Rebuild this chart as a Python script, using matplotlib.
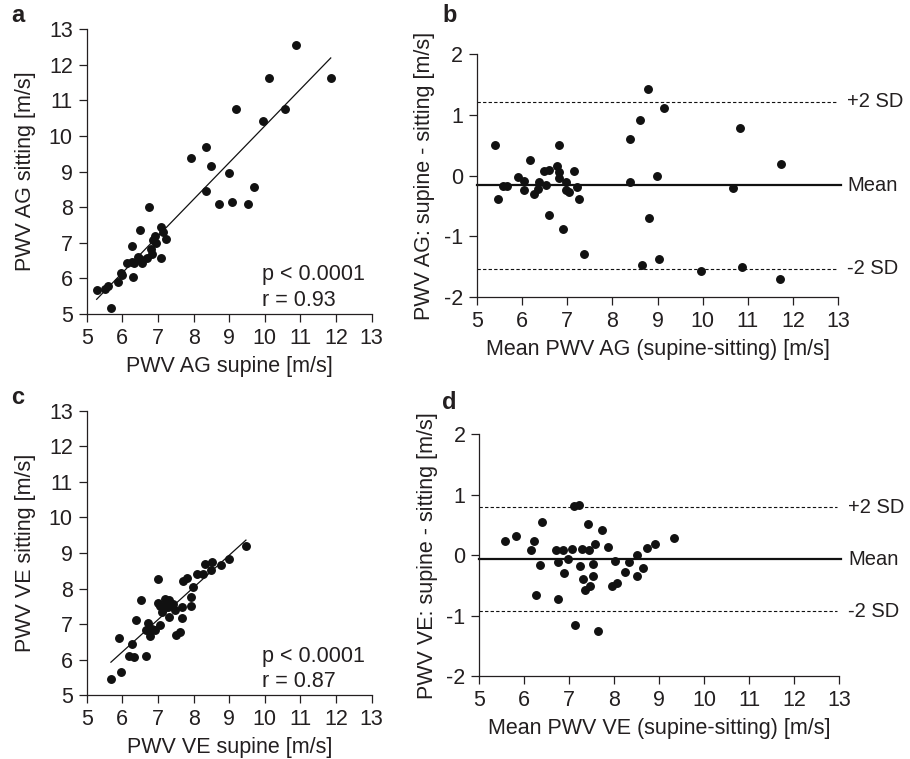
import matplotlib
matplotlib.use("Agg")
import matplotlib.pyplot as plt
import numpy as np

plt.rcParams['font.family'] = ['Liberation Sans', 'DejaVu Sans']
plt.rcParams['axes.unicode_minus'] = False
plt.rcParams['text.color'] = '#231f20'
plt.rcParams['axes.labelcolor'] = '#231f20'
plt.rcParams['xtick.color'] = '#231f20'
plt.rcParams['ytick.color'] = '#231f20'

# panel a: PWV AG supine vs sitting
ag_supine = [5.28, 5.5, 5.6, 5.67, 5.89, 5.97, 6.0, 6.31, 6.14, 6.26, 6.33, 6.44, 6.56,
             6.5, 6.68, 6.28, 6.5, 6.74, 6.80, 6.84, 6.87, 6.94, 6.91, 7.09, 7.09, 7.13,
             7.22, 7.92, 8.36, 8.48, 8.36, 8.72, 8.99, 9.08, 9.19, 9.52, 9.71, 9.94,
             10.12, 10.56, 10.87, 11.85]
ag_sitting = [5.67, 5.7, 5.78, 5.16, 5.91, 6.16, 6.1, 6.05, 6.42, 6.47, 6.42, 6.61, 6.44,
              6.55, 6.56, 6.92, 7.36, 8.01, 6.82, 6.68, 7.08, 6.99, 7.19, 6.56, 7.45, 7.31,
              7.11, 9.37, 9.70, 9.17, 8.46, 8.09, 8.97, 8.14, 10.75, 8.09, 8.58, 10.42,
              11.64, 10.76, 12.56, 11.64]

# panel b: Bland-Altman AG
ag_mean = [5.40, 5.48, 5.59, 5.66, 5.91, 6.05, 6.05, 6.18, 6.27, 6.35, 6.38, 6.49, 6.53,
           6.61, 6.60, 6.77, 6.82, 6.83, 6.81, 6.92, 6.98, 6.98, 7.05, 7.16, 7.21, 7.26,
           7.38, 8.39, 8.40, 8.61, 8.65, 8.80, 8.82, 8.98, 9.03, 9.14, 9.96, 10.67,
           10.82, 10.88, 11.73, 11.71]
ag_diff = [0.50, -0.39, -0.17, -0.17, -0.02, -0.09, -0.24, 0.26, -0.31, -0.23, -0.10, 0.08,
           -0.15, 0.09, -0.66, 0.15, 0.50, 0.05, -0.04, -0.89, -0.10, -0.24, -0.28, 0.08,
           -0.19, -0.39, -1.29, 0.60, -0.10, 0.92, -1.48, 1.42, -0.70, -0.005, -1.37,
           1.11, -1.58, -0.20, 0.78, -1.51, 0.19, -1.71]
ag_lines = [1.22, -0.16, -1.54]   # +2 SD, mean, -2 SD

# panel c: PWV VE supine vs sitting
ve_supine = [5.68, 5.96, 5.92, 6.26, 6.20, 6.33, 6.66, 6.38, 6.52, 6.66, 6.73, 6.78, 6.83,
             6.92, 6.99, 7.06, 7.01, 7.11, 7.07, 7.20, 7.32, 7.29, 7.32, 7.43, 7.48, 7.51,
             7.62, 7.67, 7.67, 7.69, 7.81, 7.93, 7.93, 7.98, 8.09, 8.26, 8.32, 8.49, 8.53,
             8.76, 9.0, 9.47, 7.2]
ve_sitting = [5.46, 5.66, 6.60, 6.43, 6.11, 6.08, 6.11, 7.12, 7.68, 6.83, 7.02, 6.67, 6.85,
              6.83, 8.26, 6.97, 7.60, 7.35, 7.5, 7.72, 7.68, 7.49, 7.21, 7.58, 7.40, 6.69,
              6.79, 7.16, 7.47, 8.22, 8.29, 7.77, 7.51, 8.05, 8.40, 8.40, 8.69, 8.52, 8.75,
              8.66, 8.82, 9.19, 7.55]

# panel d: Bland-Altman VE
ve_mean = [5.58, 5.81, 6.16, 6.21, 6.27, 6.36, 6.39, 6.71, 6.76, 6.76, 6.86, 6.88, 6.97,
           7.06, 7.10, 7.21, 7.12, 7.23, 7.28, 7.30, 7.34, 7.43, 7.42, 7.47, 7.52, 7.52,
           7.58, 7.63, 7.73, 7.86, 7.96, 8.06, 8.02, 8.25, 8.33, 8.51, 8.51, 8.64, 8.72,
           8.91, 9.34]
ve_diff = [0.24, 0.31, 0.08, 0.24, -0.66, -0.17, 0.55, 0.08, -0.12, -0.72, 0.08, -0.29,
           -0.06, 0.11, 0.81, 0.83, -1.15, -0.18, 0.11, -0.39, -0.58, 0.08, 0.51, -0.51,
           -0.15, -0.35, 0.19, -1.25, 0.41, 0.14, -0.51, -0.46, -0.09, -0.28, -0.12,
           -0.005, -0.35, -0.22, 0.12, 0.19, 0.29]
ve_lines = [0.79, -0.07, -0.93]

line_labels = ['+2 SD', 'Mean', '-2 SD']
ticks_v = [5, 6, 7, 8, 9, 10, 11, 12, 13]
ticks_d = [-2, -1, 0, 1, 2]

FS = 15.5
W, H = 910, 759
fig = plt.figure(figsize=(W / 100, H / 100), dpi=100)


def add_ax(l, r, t, b):
    return fig.add_axes([l / W, 1 - b / H, (r - l) / W, (b - t) / H])


def style(ax):
    for s in ['top', 'right']:
        ax.spines[s].set_visible(False)
    for s in ['left', 'bottom']:
        ax.spines[s].set_linewidth(0.9)
        ax.spines[s].set_color('#231f20')
    ax.tick_params(direction='out', length=6, width=0.9, labelsize=FS, pad=4)
    ax.set_xlim(5, 13)
    ax.set_xticks(ticks_v)


def scatter_panel(ax, x, y, xlabel, ylabel, r):
    style(ax)
    ax.set_ylim(5, 13)
    ax.set_yticks(ticks_v)
    ax.plot(x, y, 'o', color='#111111', markersize=5.4, clip_on=False)
    k, c = np.polyfit(x, y, 1)
    xs = np.array([min(x), max(x)])
    ax.plot(xs, k * xs + c, color='#111111', lw=0.9)
    ax.text(9.92, 6.1, 'p < 0.0001', ha='left', va='center', fontsize=FS)
    ax.text(9.92, 5.38, 'r = ' + r, ha='left', va='center', fontsize=FS)
    ax.set_xlabel(xlabel, fontsize=FS, labelpad=5)
    ax.set_ylabel(ylabel, fontsize=FS, labelpad=9)


def ba_panel(ax, x, y, lines, xlabel, ylabel):
    style(ax)
    ax.set_ylim(-2, 2)
    ax.set_yticks(ticks_d)
    for v, lab in zip(lines, line_labels):
        if lab == 'Mean':
            ax.plot([5, 13.05], [v, v], color='#111111', lw=1.6, clip_on=False)
        else:
            ax.plot([5, 12.95], [v, v], color='#111111', lw=0.8, ls=(0, (3, 2)), clip_on=False)
        ax.text(13.2, v, lab, ha='left', va='center', fontsize=14.5)
    ax.plot(x, y, 'o', color='#111111', markersize=5.4, clip_on=False)
    ax.set_xlabel(xlabel, fontsize=FS, labelpad=5)
    ax.set_ylabel(ylabel, fontsize=FS, labelpad=6)


ax_a = add_ax(86.7, 371.7, 29.3, 314)
ax_b = add_ax(476.7, 838.3, 54.3, 296.7)
ax_c = add_ax(86.7, 371.7, 410.7, 695.3)
ax_d = add_ax(479.3, 839, 434.3, 676)

scatter_panel(ax_a, ag_supine, ag_sitting, 'PWV AG supine [m/s]', 'PWV AG sitting [m/s]', '0.93')
ba_panel(ax_b, ag_mean, ag_diff, ag_lines, 'Mean PWV AG (supine-sitting) [m/s]',
         'PWV AG: supine - sitting [m/s]')
scatter_panel(ax_c, ve_supine, ve_sitting, 'PWV VE supine [m/s]', 'PWV VE sitting [m/s]', '0.87')
ba_panel(ax_d, ve_mean, ve_diff, ve_lines, 'Mean PWV VE (supine-sitting) [m/s]',
         'PWV VE: supine - sitting [m/s]')

for lab, px, py in [('a', 11, 16), ('b', 442, 16), ('c', 11, 397), ('d', 442, 402)]:
    fig.text(px / W, 1 - py / H, lab, fontsize=17, fontweight='bold', va='center', ha='left')

fig.savefig('out.png', dpi=100)
